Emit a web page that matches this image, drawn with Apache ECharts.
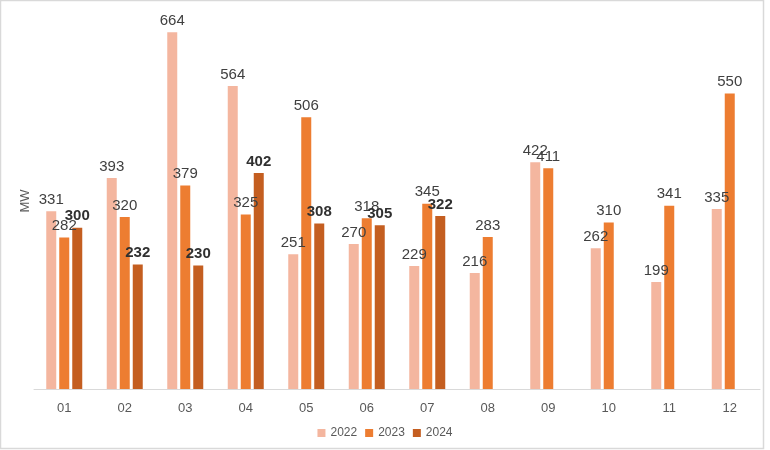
<!DOCTYPE html>
<html>
<head>
<meta charset="utf-8">
<script src="https://cdn.jsdelivr.net/npm/echarts@6/dist/echarts.min.js"></script>
<style>
html,body{margin:0;padding:0;background:#fff;}
#chart{width:770px;height:450px;}
</style>
</head>
<body>
<div id="chart"></div>
<script>
var categories = ['01','02','03','04','05','06','07','08','09','10','11','12'];
var seriesNames = ['2022','2023','2024'];
var values2022 = [331, 393, 664, 564, 251, 270, 229, 216, 422, 262, 199, 335];
var values2023 = [282, 320, 379, 325, 506, 318, 345, 283, 411, 310, 341, 550];
var values2024 = [300, 232, 230, 402, 308, 305, 322, null, null, null, null, null];
var yAxisName = 'MW';

var colors = ['#F4B69F', '#ED7D31', '#C45E20'];
var font = 'Liberation Sans, Arial, sans-serif';

function mkSeries(name, data, color, bold) {
  return {
    name: name,
    type: 'bar',
    data: data,
    barWidth: 10,
    barGap: '30%',
    itemStyle: { color: color },
    label: {
      show: true,
      position: 'top',
      distance: 4,
      fontFamily: font,
      fontSize: 15,
      fontWeight: bold ? 'bold' : 'normal',
      color: bold ? '#303030' : '#404040'
    }
  };
}

var chart = echarts.init(document.getElementById('chart'), null, { renderer: 'canvas' });
chart.setOption({
  animation: false,
  backgroundColor: '#fff',
  textStyle: { fontFamily: font },
  graphic: [{
    type: 'rect',
    shape: { x: 0.5, y: 0.5, width: 763, height: 448 },
    style: { fill: 'none', stroke: '#D9D9D9', lineWidth: 1.5 },
    silent: true
  }],
  grid: { left: 34, right: 10, top: 13, bottom: 61, containLabel: false },
  legend: {
    data: seriesNames,
    bottom: 6,
    left: 'center',
    itemWidth: 8,
    itemHeight: 8,
    itemGap: 8,
    icon: 'rect',
    textStyle: { fontFamily: font, fontSize: 12, color: '#595959' }
  },
  xAxis: {
    type: 'category',
    data: categories,
    axisLine: { lineStyle: { color: '#D9D9D9', width: 1 } },
    axisTick: { show: false },
    axisLabel: { fontFamily: font, fontSize: 13, color: '#595959', margin: 13 }
  },
  yAxis: {
    type: 'value',
    min: 0,
    max: 700,
    interval: 100,
    name: yAxisName,
    nameLocation: 'middle',
    nameRotate: 90,
    nameGap: 2,
    nameTextStyle: { fontFamily: font, fontSize: 13, color: '#595959' },
    axisLine: { show: false },
    axisTick: { show: false },
    axisLabel: { show: false },
    splitLine: { show: false }
  },
  series: [
    mkSeries(seriesNames[0], values2022, colors[0], false),
    mkSeries(seriesNames[1], values2023, colors[1], false),
    mkSeries(seriesNames[2], values2024, colors[2], true)
  ]
});
</script>
</body>
</html>
